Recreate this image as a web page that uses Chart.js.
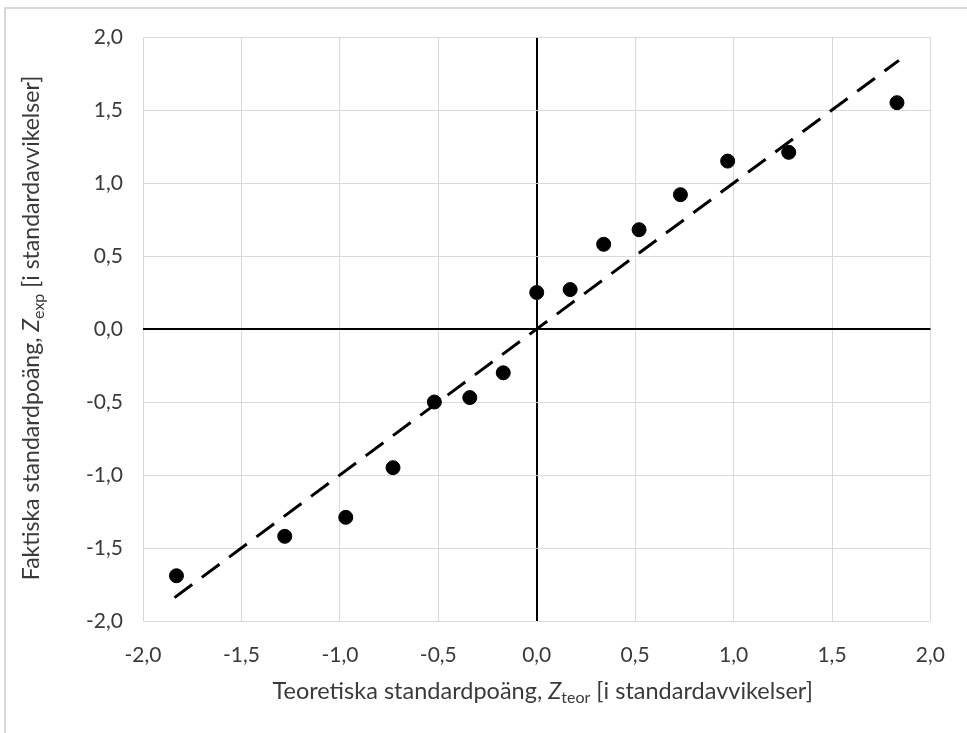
<!DOCTYPE html>
<html><head><meta charset="utf-8">
<script src="https://cdn.jsdelivr.net/npm/chart.js@4/dist/chart.umd.min.js"></script>
<style>html,body{margin:0;padding:0;background:#fff;}#wrap{width:967px;height:733px;position:relative;}</style>
</head><body><div id="wrap"><canvas id="c" width="967" height="733"></canvas></div>
<script>
const zTeor = [-1.83, -1.28, -0.97, -0.73, -0.52, -0.34, -0.17, 0.0, 0.17, 0.34, 0.52, 0.73, 0.97, 1.28, 1.83];
const zExp  = [-1.69, -1.42, -1.29, -0.95, -0.50, -0.47, -0.30, 0.25, 0.27, 0.58, 0.68, 0.92, 1.15, 1.21, 1.55];
const refLineX = [-1.84, 1.84];
const refLineY = [-1.84, 1.84];
const tickValues = [-2.0, -1.5, -1.0, -0.5, 0.0, 0.5, 1.0, 1.5, 2.0];
const xTitle = ['Teoretiska standardpoäng, ', 'Z', 'teor', ' [i standardavvikelser]'];
const yTitle = ['Faktiska standardpoäng, ', 'Z', 'exp', ' [i standardavvikelser]'];

const FONT = 'Lato, "Open Sans", sans-serif';
const GRID = '#d9d9d9';
const TEXT = '#3a3a3a';
const fmt = v => v.toFixed(1).replace('.', ',');

function drawRich(ctx, parts, size) {
  const segs = [
    {t: parts[0], f: `${size}px ${FONT}`, dy: 0},
    {t: parts[1], f: `italic ${size}px ${FONT}`, dy: 0},
    {t: parts[2], f: `${Math.round(size*0.68)}px ${FONT}`, dy: size*0.3},
    {t: parts[3], f: `${size}px ${FONT}`, dy: 0}
  ];
  let total = 0;
  segs.forEach(s => { ctx.font = s.f; s.w = ctx.measureText(s.t).width; total += s.w; });
  let x = -total/2;
  ctx.textBaseline = 'middle';
  ctx.textAlign = 'left';
  segs.forEach(s => { ctx.font = s.f; ctx.fillText(s.t, x, s.dy); x += s.w; });
}

const decor = {
  id: 'decor',
  beforeDraw(chart) {
    const ctx = chart.ctx;
    ctx.save();
    ctx.fillStyle = '#fff';
    ctx.fillRect(0, 0, chart.width, chart.height);
    ctx.strokeStyle = GRID;
    ctx.lineWidth = 2;
    ctx.strokeRect(5, 8, 1200, 1200);
    ctx.restore();
  },
  afterDraw(chart) {
    const ctx = chart.ctx;
    const a = chart.chartArea;
    ctx.save();
    ctx.fillStyle = TEXT;
    ctx.translate((a.left + a.right)/2 + 6, 691);
    drawRich(ctx, xTitle, 23.5);
    ctx.restore();
    ctx.save();
    ctx.fillStyle = TEXT;
    ctx.translate(32, (a.top + a.bottom)/2 - 1);
    ctx.rotate(-Math.PI/2);
    drawRich(ctx, yTitle, 23);
    ctx.restore();
  }
};

const gridColor = c => (c.tick && c.tick.value === 0) ? '#000' : GRID;
const gridWidth = c => (c.tick && c.tick.value === 0) ? 2 : 1;

new Chart(document.getElementById('c'), {
  type: 'scatter',
  data: {
    datasets: [
      {
        type: 'line',
        data: refLineX.map((x, i) => ({x, y: refLineY[i]})),
        borderColor: '#000',
        borderWidth: 3,
        borderDash: [22, 12],
        pointRadius: 0,
        fill: false,
        order: 2
      },
      {
        data: zTeor.map((x, i) => ({x, y: zExp[i]})),
        backgroundColor: '#000',
        borderColor: '#000',
        pointRadius: 7,
        pointHoverRadius: 7,
        order: 1
      }
    ]
  },
  options: {
    responsive: false,
    animation: false,
    events: [],
    layout: {padding: {top: 37, right: 35, left: 0, bottom: 0}},
    plugins: {legend: {display: false}, tooltip: {enabled: false}},
    scales: {
      x: {
        type: 'linear', min: -2, max: 2,
        afterBuildTicks: s => { s.ticks = tickValues.map(v => ({value: v})); },
        afterFit: s => { s.height = 112; },
        grid: {color: gridColor, lineWidth: gridWidth, drawTicks: false},
        border: {display: false},
        ticks: {callback: v => fmt(v), color: TEXT, font: {family: FONT, size: 21}, padding: 22, maxRotation: 0}
      },
      y: {
        type: 'linear', min: -2, max: 2,
        afterBuildTicks: s => { s.ticks = tickValues.map(v => ({value: v})); },
        afterFit: s => { s.width = 143; },
        grid: {color: gridColor, lineWidth: gridWidth, drawTicks: false},
        border: {display: false},
        ticks: {callback: v => fmt(v), color: TEXT, font: {family: FONT, size: 21}, padding: 20}
      }
    }
  },
  plugins: [decor]
});
</script>
</body></html>
